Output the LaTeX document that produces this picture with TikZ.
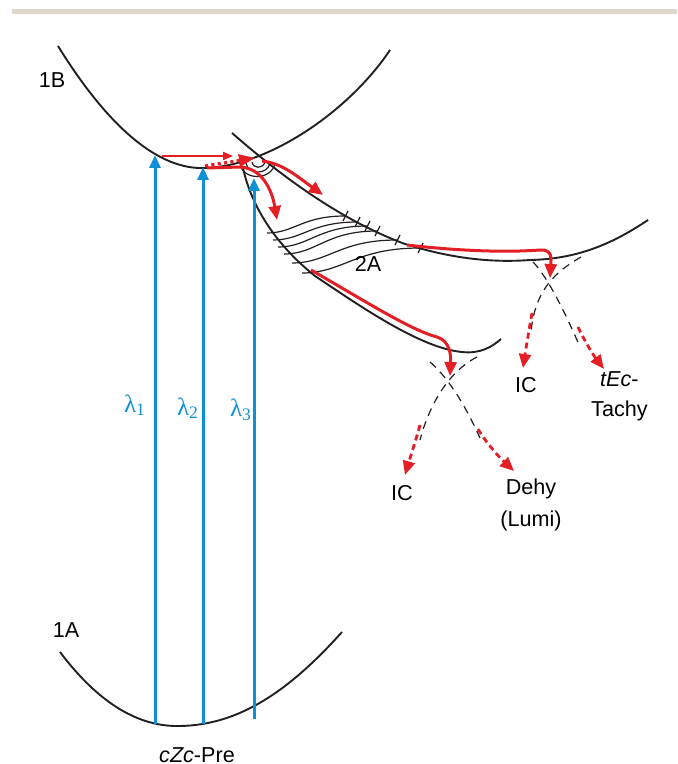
\documentclass[tikz,border=0pt]{standalone}
\usepackage{fontspec}
\setmainfont{Liberation Sans}
\newfontfamily\lamfont{Liberation Serif}
\usetikzlibrary{arrows.meta,positioning}
\definecolor{curvegray}{RGB}{35,31,32}
\definecolor{pathred}{RGB}{227,30,36}
\definecolor{lamblue}{RGB}{16,144,212}
\definecolor{barbeige}{RGB}{221,216,203}
\tikzset{
  surf/.style    ={draw=curvegray,line width=0.95pt},
  hatch/.style   ={draw=curvegray,line width=0.6pt},
  cross/.style   ={draw=curvegray,line width=0.6pt,dash pattern=on 4pt off 3pt},
  exci/.style    ={draw=lamblue,line width=1.5pt,-{Triangle[length=6.5pt,width=5.5pt]}},
  flow/.style    ={draw=pathred,line width=1.5pt,-{Triangle[length=7pt,width=6pt]}},
  flowthin/.style={draw=pathred,line width=1pt,-{Triangle[length=5pt,width=4pt]}},
  flowdot/.style ={draw=pathred,line width=1.6pt,dash pattern=on 1.6pt off 1.6pt,-{Triangle[length=8pt,width=6pt]}},
  decay/.style   ={draw=pathred,line width=1.4pt,dash pattern=on 3pt off 2pt,-{Triangle[length=7pt,width=6pt]}},
  lbl/.style     ={font=\fontsize{10.8}{15}\selectfont,inner sep=0pt,align=center},
  lam/.style     ={font=\fontsize{12.5}{14}\lamfont,text=lamblue,inner sep=0pt},
}

\begin{document}
\begin{tikzpicture}[x=0.5pt,y=-0.5pt]
  \useasboundingbox (0,0) rectangle (677,764);
  \fill[barbeige] (12,9) rectangle (677,14);
  % potential energy surfaces
  \draw[surf] (58,46) .. controls (110,130) and (160,170) .. (205,168)
              .. controls (270,166) and (350,110) .. (390,50);
  \draw[surf] (232,133) .. controls (280,175) and (340,220) .. (405,244)
              .. controls (450,258) and (490,263) .. (530,260)
              .. controls (580,259) and (615,242) .. (648,220);
  \draw[surf] (243,168) .. controls (250,200) and (270,240) .. (315,276)
              .. controls (360,306) and (420,348) .. (462,352)
              .. controls (480,354) and (492,347) .. (501,339);
  \draw[surf] (60,652) .. controls (100,705) and (140,727) .. (180,726)
              .. controls (240,725) and (290,690) .. (342,632);
  % funnel near the crossing
  \draw[hatch] (240,163) .. controls (242,181) and (272,181) .. (275,163);
  \draw[hatch] (246,163) .. controls (248,175) and (268,175) .. (270,163);
  \draw[hatch] (252,162) .. controls (253,169) and (263,169) .. (265,162);
  % levels in 2A
  \foreach \xl/\yl/\xr/\yr in {267/233/345/216, 273/240/357/222, 278/247/367/226,
                               284/254/377/231, 292/263/397/240, 302/273/420/248}
  {
    \draw[hatch] (\xl,\yl) .. controls ({\xl+0.35*(\xr-\xl)},\yl)
                 and ({\xl+0.45*(\xr-\xl)},\yr) .. (\xr,\yr);
    \draw[hatch] ({\xr-2},{\yr+5}) -- ({\xr+3},{\yr-5});
  }
  % crossings
  \draw[cross] (533,262) .. controls (545,274) and (562,305) .. (580,347);
  \draw[cross] (581,257) .. controls (555,272) and (535,290) .. (531,332);
  \draw[cross] (430,362) .. controls (445,375) and (462,398) .. (480,438);
  \draw[cross] (477,357) .. controls (455,368) and (432,395) .. (420,440);
  % excitation
  \coordinate (a1) at (155,724); \coordinate (b1) at (155,155);
  \coordinate (a2) at (203,724); \coordinate (b2) at (203,167);
  \coordinate (a3) at (254,719); \coordinate (b3) at (254,178);
  \draw[exci] (a1) -- (b1);
  \draw[exci] (a2) -- (b2);
  \draw[exci] (a3) -- (b3);
  \node[lam] (lam1) at (135,405) {λ\textsubscript{1}};
  \node[lam] (lam2) at (188,408) {λ\textsubscript{2}};
  \node[lam] (lam3) at (241,410) {λ\textsubscript{3}};
  % red pathways
  \draw[flowthin] (162,156) -- (233,156);
  \draw[flowdot] (205,166) -- (255,158);
  \draw[flow] (262,161) .. controls (282,163) and (298,177) .. (323,195);
  \draw[flow] (207,168) -- (240,167) .. controls (262,168) and (272,190) .. (277,220);
  \draw[flow] (407,245) .. controls (450,250) and (500,253) .. (540,250)
              .. controls (553,249) and (551,260) .. (550,278);
  \draw[flow] (311,270) .. controls (360,298) and (410,330) .. (437,337)
              .. controls (450,341) and (451,355) .. (450,376);
  % decay channels
  \coordinate (uc) at (532,313); \coordinate (ut) at (578,327);
  \coordinate (lc) at (420,425); \coordinate (lt) at (478,429);
  \node[lbl] (icU) at (526,385) {IC};
  \node[lbl,anchor=east] (tachy) at (648,396) {\textit{tEc}-\\Tachy};
  \node[lbl] (icL) at (402,493) {IC};
  \node[lbl,font=\fontsize{10.8}{16}\selectfont] (lumi) at (531,505) {Dehy\\(Lumi)};
  \draw[decay] (uc) .. controls (529,330) and (526,348) .. (523,368);
  \draw[decay] (ut) .. controls (585,342) and (594,356) .. (604,369);
  \draw[decay] (lc) .. controls (416,440) and (410,458) .. (405,475);
  \draw[decay] (lt) .. controls (487,444) and (500,458) .. (514,471);
  % state labels
  \node[lbl] (lbB) at (52,80) {1B};
  \node[lbl] (lbA) at (66,630) {1A};
  \node[lbl] (lb2A) at (368,264) {2A};
  \node[lbl] (pre) at (197,755) {\textit{cZc}-Pre};
\end{tikzpicture}
\end{document}
